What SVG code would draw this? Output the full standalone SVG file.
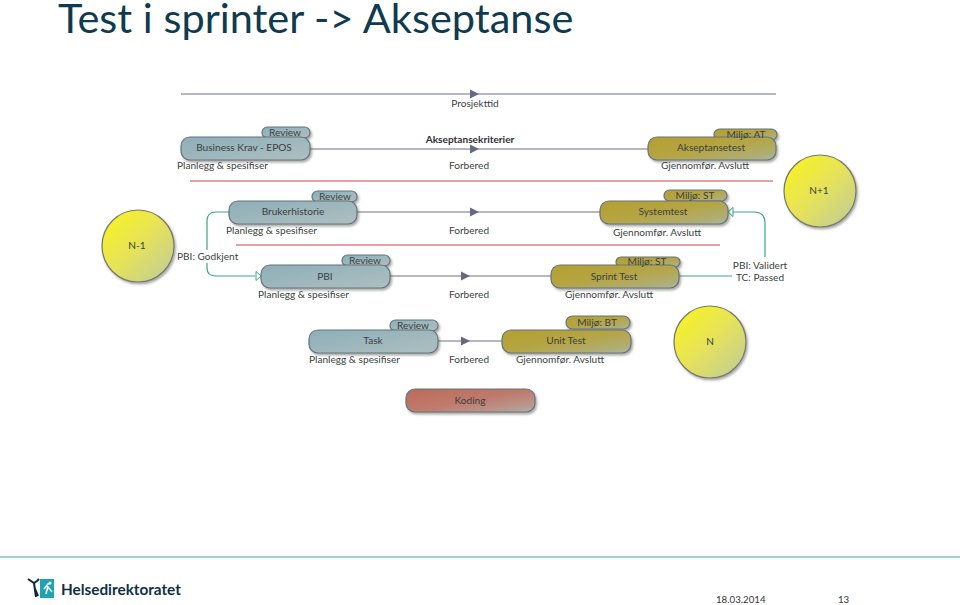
<svg xmlns="http://www.w3.org/2000/svg" width="960" height="605" viewBox="0 0 960 605">
<defs>
<linearGradient id="blue" x1="0" y1="0" x2="1" y2="1"><stop offset="0" stop-color="#8dafb9"/><stop offset="1" stop-color="#aebfc0"/></linearGradient>
<linearGradient id="gold" x1="0" y1="0" x2="1" y2="1"><stop offset="0" stop-color="#b3a030"/><stop offset="0.5" stop-color="#b5a545"/><stop offset="0.85" stop-color="#afae78"/><stop offset="1" stop-color="#a9b9a8"/></linearGradient>
<linearGradient id="red" x1="0" y1="0" x2="1" y2="1"><stop offset="0" stop-color="#bd6a5a"/><stop offset="0.5" stop-color="#bf7a6c"/><stop offset="0.85" stop-color="#b89a90"/><stop offset="1" stop-color="#b0b0a8"/></linearGradient>
<linearGradient id="yel" x1="0" y1="0" x2="1" y2="1"><stop offset="0.15" stop-color="#f4f02c"/><stop offset="0.5" stop-color="#e6e25a"/><stop offset="0.9" stop-color="#c5cf90"/></linearGradient>
<filter id="sh" x="-10%" y="-20%" width="125%" height="150%"><feDropShadow dx="1.500" dy="2" stdDeviation="1" flood-color="#555" flood-opacity="0.5"/></filter>
</defs>
<style>
text{font-family:"Lato","Liberation Sans",sans-serif;fill:#3a3f42;font-size:10.1px}
.m{text-anchor:middle}
.bar{stroke:#66747a;stroke-width:1.2;filter:url(#sh)}
.b{fill:url(#blue)}.g{fill:url(#gold)}.r{fill:url(#red)}
.c{fill:url(#yel);stroke:#77786a;stroke-width:1.2;filter:url(#sh)}
.ln{stroke:#6c7285;stroke-width:1.2;fill:none}
.red{stroke:#d8404a;stroke-width:1.2;fill:none}
.gr{stroke:#3fa77f;stroke-width:1.2;fill:none}
.ah{fill:#646a85}
.oh{fill:#fff;stroke:#3fa77f}
</style>
<text x="58" y="33" style="font-size:41.500px;fill:#103b4f">Test i sprinter -&gt; Akseptanse</text>
<g id="connectors">
<path class="ln" d="M181 94H776"/><path class="ah" d="M470 89.500L479 94L470 98.500Z"/>
<path class="ln" d="M310 149H648"/><path class="ah" d="M470 144.500L479 149L470 153.500Z"/>
<path class="ln" d="M357 212H600"/><path class="ah" d="M470 207.500L479 212L470 216.500Z"/>
<path class="ln" d="M390 276H551"/><path class="ah" d="M461 271.500L470 276L461 280.500Z"/>
<path class="ln" d="M438 341H502"/><path class="ah" d="M461 336.500L470 341L461 345.500Z"/>
<path class="red" d="M190 181H773"/>
<path class="red" d="M236 245H720"/>
<path class="gr" d="M229 212H216Q207 212 207 221V268Q207 276 216 276H255"/>
<path class="gr" d="M679 276H732"/>
<path class="gr" d="M765 257V223Q765 212 754 212H733"/>
<path class="oh" d="M261 276L256 271.500V280.500Z"/>
<path class="oh" d="M728 212L733 207.500V216.500Z"/>
</g>
<g id="n-1"><circle class="c" cx="138" cy="246" r="36"/><text class="m" x="137" y="249">N-1</text></g>
<g id="n+1"><circle class="c" cx="820" cy="191" r="36"/><text class="m" x="819" y="194">N+1</text></g>
<g id="n"><circle class="c" cx="710" cy="342" r="36"/><text class="m" x="710" y="345">N</text></g>
<g id="prosjekttid"><text class="m" x="475" y="107">Prosjekttid</text></g>
<g id="akseptansekriterier"><text class="m" x="470" y="143" style="font-weight:700;fill:#2c3033">Akseptansekriterier</text></g>
<g id="business"><rect class="bar b" x="262" y="127" width="48" height="11" rx="5.500"/><rect class="bar b" x="181" y="137" width="129" height="23" rx="9"/><text class="m" x="285" y="135.500">Review</text><text class="m" x="244" y="151">Business Krav - EPOS</text><text x="177" y="169">Planlegg &amp; spesifiser</text></g>
<g id="akseptansetest"><rect class="bar g" x="714" y="129" width="63" height="11" rx="5.500"/><rect class="bar g" x="648" y="137" width="128" height="23" rx="9"/><text class="m" x="746" y="137.500">Miljø: AT</text><text class="m" x="711" y="151">Akseptansetest</text><text x="661" y="169">Gjennomfør. Avslutt</text></g>
<g id="brukerhistorie"><rect class="bar b" x="312" y="191" width="45" height="11" rx="5.500"/><rect class="bar b" x="229" y="201" width="128" height="23" rx="9"/><text class="m" x="335" y="199.500">Review</text><text class="m" x="293" y="215">Brukerhistorie</text><text x="226" y="234">Planlegg &amp; spesifiser</text></g>
<g id="systemtest"><rect class="bar g" x="664" y="190" width="63" height="11" rx="5.500"/><rect class="bar g" x="600" y="201" width="128" height="23" rx="9"/><text class="m" x="695" y="198.500">Miljø: ST</text><text class="m" x="663" y="215">Systemtest</text><text x="613" y="236">Gjennomfør. Avslutt</text></g>
<g id="pbi"><rect class="bar b" x="342" y="255" width="48" height="11" rx="5.500"/><rect class="bar b" x="261" y="265" width="129" height="23" rx="9"/><text class="m" x="365" y="263.500">Review</text><text class="m" x="325" y="280">PBI</text><text x="258" y="298">Planlegg &amp; spesifiser</text></g>
<g id="sprint"><rect class="bar g" x="616" y="257" width="64" height="10" rx="5"/><rect class="bar g" x="551" y="265" width="128" height="23" rx="9"/><text class="m" x="647" y="265">Miljø: ST</text><text class="m" x="614" y="280">Sprint Test</text><text x="565" y="298">Gjennomfør. Avslutt</text></g>
<g id="task"><rect class="bar b" x="390" y="320" width="48" height="11" rx="5.500"/><rect class="bar b" x="309" y="330" width="129" height="23" rx="9"/><text class="m" x="413" y="328.500">Review</text><text class="m" x="373" y="344">Task</text><text x="309" y="363">Planlegg &amp; spesifiser</text></g>
<g id="unit"><rect class="bar g" x="566" y="316" width="64" height="13" rx="6.500"/><rect class="bar g" x="502" y="330" width="129" height="23" rx="9"/><text class="m" x="597" y="326">Miljø: BT</text><text class="m" x="566" y="344">Unit Test</text><text x="516" y="363">Gjennomfør. Avslutt</text></g>
<g id="koding"><rect class="bar r" x="406" y="389" width="129" height="23" rx="9"/><text class="m" x="470" y="404">Koding</text></g>
<text class="m" x="469" y="169">Forbered</text>
<text class="m" x="469" y="234">Forbered</text>
<text class="m" x="469" y="298">Forbered</text>
<text class="m" x="469" y="363">Forbered</text>
<rect x="177" y="250" width="61" height="13" fill="#fff"/>
<text x="177" y="260">PBI: Godkjent</text>
<text class="m" x="760" y="269">PBI: Validert</text>
<text class="m" x="760" y="281">TC: Passed</text>
<path d="M0 557H960" stroke="#7cc4b8" stroke-width="1.500"/>
<g id="logo">
<rect x="40" y="579" width="14" height="19" fill="#1fa2b2"/>
<path d="M44 589L48 584L51 583M48 586L46 594M48 587L52 592" stroke="#fff" stroke-width="1.500" fill="none"/>
<circle cx="50" cy="583" r="1.500" fill="#fff"/>
<path d="M28 579L34 583L37 581L39 579M34 583L36 597M35 589L38 596" stroke="#0e2a3a" stroke-width="2" fill="none"/>
<text x="61" y="595" style="font-size:15.300px;font-weight:700;fill:#10303f">Helsedirektoratet</text>
</g>
<text x="716" y="603" style="font-size:9.700px;fill:#333">18.03.2014</text>
<text x="838" y="603" style="font-size:9.700px;fill:#333">13</text>
</svg>
